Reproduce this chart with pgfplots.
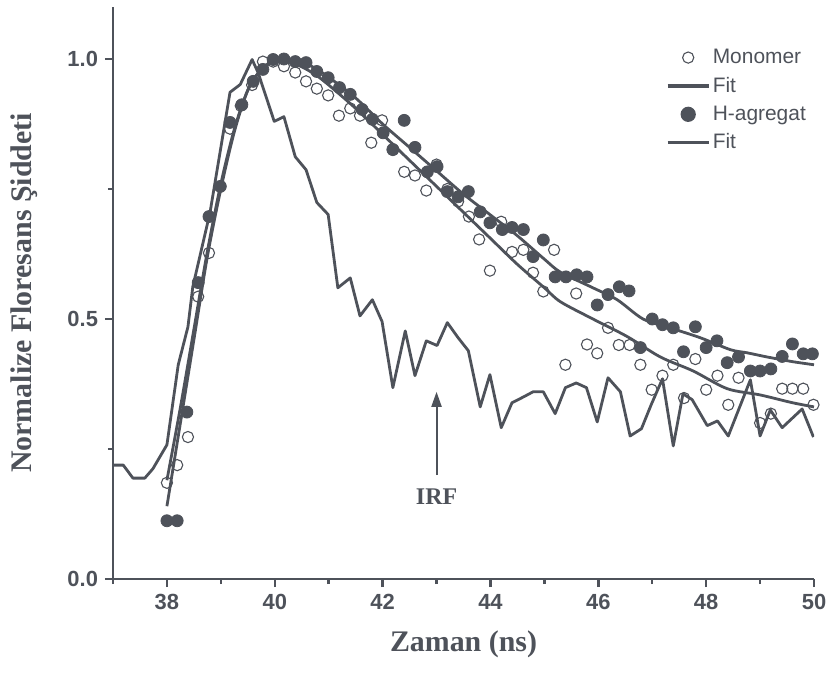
\documentclass[border=0pt]{standalone}
\usepackage{fontspec}
\setmainfont{Liberation Serif}
\newfontfamily\arial{Liberation Sans}
\usepackage{pgfplots}
\usepackage{pgfplotstable}
\pgfplotsset{compat=1.18}
\usetikzlibrary{arrows.meta}
\definecolor{ink}{RGB}{78,82,90}

\pgfplotstableread{
x y
38.00 0.185
38.19 0.219
38.39 0.273
38.58 0.543
38.78 0.627
38.99 0.755
39.17 0.866
39.37 0.910
39.58 0.950
39.78 0.995
39.97 0.995
40.17 0.986
40.38 0.974
40.58 0.957
40.78 0.943
40.99 0.930
41.19 0.891
41.40 0.905
41.58 0.891
41.79 0.839
41.99 0.882
42.19 0.825
42.40 0.783
42.60 0.776
42.81 0.747
43.00 0.797
43.20 0.750
43.40 0.726
43.60 0.697
43.79 0.653
43.99 0.593
44.20 0.687
44.40 0.629
44.61 0.633
44.79 0.589
44.98 0.553
45.18 0.633
45.39 0.412
45.59 0.549
45.79 0.451
45.98 0.434
46.18 0.483
46.38 0.450
46.58 0.450
46.78 0.412
46.99 0.364
47.19 0.391
47.39 0.412
47.59 0.348
47.80 0.423
48.00 0.364
48.21 0.391
48.41 0.335
48.60 0.387
49.00 0.300
49.20 0.318
49.41 0.366
49.60 0.366
49.80 0.366
49.99 0.335
}\monomer

\pgfplotstableread{
x y
38.00 0.190
38.25 0.330
38.50 0.480
38.75 0.630
39.00 0.760
39.25 0.865
39.50 0.940
39.75 0.980
40.00 0.995
40.25 0.995
40.50 0.985
40.75 0.970
41.00 0.950
41.50 0.905
42.00 0.855
42.50 0.805
43.00 0.755
43.50 0.705
44.00 0.655
44.50 0.605
45.00 0.560
45.30 0.533
45.90 0.500
46.54 0.466
47.15 0.427
47.76 0.400
48.39 0.366
49.00 0.354
49.60 0.339
50.00 0.331
}\monofit

\pgfplotstableread{
x y
38.00 0.112
38.19 0.112
38.37 0.321
38.58 0.570
38.78 0.697
38.99 0.755
39.17 0.878
39.39 0.912
39.60 0.957
39.78 0.980
39.97 0.999
40.17 1.000
40.38 0.995
40.58 0.993
40.78 0.976
40.99 0.964
41.20 0.945
41.40 0.932
41.62 0.903
41.81 0.884
42.01 0.858
42.19 0.826
42.40 0.882
42.60 0.830
42.83 0.783
43.01 0.793
43.20 0.745
43.40 0.735
43.59 0.745
43.81 0.706
43.99 0.685
44.22 0.672
44.40 0.676
44.61 0.672
44.79 0.620
44.98 0.652
45.20 0.581
45.40 0.581
45.60 0.585
45.79 0.581
45.98 0.527
46.18 0.547
46.39 0.562
46.57 0.554
46.78 0.445
47.00 0.500
47.19 0.489
47.39 0.483
47.58 0.437
47.80 0.485
48.00 0.445
48.20 0.458
48.39 0.416
48.60 0.427
48.82 0.400
49.00 0.400
49.20 0.404
49.41 0.428
49.60 0.452
49.80 0.433
49.97 0.433
}\hagg

\pgfplotstableread{
x y
38.00 0.140
38.25 0.300
38.50 0.460
38.75 0.620
39.00 0.750
39.25 0.860
39.50 0.940
39.75 0.980
40.00 0.998
40.25 1.000
40.50 0.995
40.75 0.982
41.00 0.965
41.50 0.925
42.00 0.875
42.50 0.830
43.00 0.785
43.50 0.740
44.00 0.700
44.50 0.660
45.00 0.615
45.30 0.590
45.90 0.560
46.35 0.537
46.83 0.500
47.33 0.483
47.89 0.464
48.45 0.441
48.76 0.435
49.13 0.427
49.60 0.418
50.00 0.412
}\haggfit

\pgfplotstableread{
x y
37.00 0.219
37.19 0.219
37.37 0.194
37.59 0.194
37.74 0.212
38.00 0.258
38.21 0.412
38.39 0.485
38.48 0.562
38.80 0.705
39.17 0.936
39.36 0.951
39.58 0.999
39.69 0.974
39.99 0.880
40.17 0.889
40.38 0.812
40.58 0.787
40.78 0.724
40.99 0.701
41.17 0.560
41.40 0.579
41.58 0.506
41.81 0.537
41.99 0.495
42.19 0.368
42.42 0.477
42.60 0.391
42.81 0.458
43.01 0.449
43.20 0.493
43.40 0.464
43.59 0.439
43.81 0.331
43.99 0.393
44.20 0.291
44.40 0.339
44.61 0.350
44.79 0.360
44.98 0.360
45.20 0.318
45.39 0.368
45.59 0.377
45.78 0.368
45.98 0.302
46.18 0.387
46.41 0.360
46.59 0.275
46.80 0.289
46.98 0.335
47.19 0.385
47.39 0.256
47.57 0.356
47.74 0.345
48.02 0.295
48.21 0.304
48.41 0.275
48.82 0.383
49.00 0.275
49.19 0.325
49.41 0.291
49.78 0.327
49.99 0.273
}\irf

\begin{document}
\begin{tikzpicture}
\path[use as bounding box] (-56.5bp,-47bp) rectangle (359.5bp,289.5bp);
\begin{axis}[
  at={(0,0)}, anchor=south west,
  scale only axis, width=350.5bp, height=286bp,
  xmin=37, xmax=50, ymin=0, ymax=1.1,
  axis lines=left,
  axis line style={-, line width=1.4bp, ink},
  xtick={38,40,...,50}, minor xtick={37,39,...,49},
  ytick={0,0.5,1}, minor ytick={0.25,0.75},
  tick align=outside,
  major tick length=4bp, minor tick length=2.5bp,
  tick style={ink, line width=1.2bp},
  yticklabel style={/pgf/number format/.cd, fixed, fixed zerofill, precision=1},
  /pgf/number format/assume math mode=true,
  ticklabel style={font=\arial\bfseries\fontsize{11}{13}\selectfont, text=ink},
  xlabel={Zaman (ns)},
  ylabel={Normalize Floresans Şiddeti},
  label style={font=\bfseries\fontsize{15}{17}\selectfont, text=ink},
  xlabel style={at={(axis description cs:0.5,-0.115)}, anchor=center},
  ylabel style={at={(axis description cs:-0.127,0.5)}, anchor=center},
  legend style={draw=none, fill=none, at={(axis cs:47.25,1.025)}, anchor=north west,
    font=\arial\fontsize{10.5}{12}\selectfont, text=ink, row sep=2.8bp, inner sep=0pt,
    nodes={inner sep=1.25bp}},
  legend cell align=left,
  legend image code/.code={\draw[mark repeat=2, mark phase=2, #1, line width=1.6bp] plot coordinates {(0bp,0bp) (10.25bp,0bp) (20.5bp,0bp)};},
]
\addplot[forget plot, ink, line width=1.4bp, line join=round] table {\irf};
\addplot[only marks, mark=o, mark size=2.8bp, mark options={ink, line width=0.55bp}] table {\monomer};
\addlegendentry{Monomer}
\addplot[ink, line width=1.4bp, smooth, tension=0.5] table {\monofit};
\addlegendentry{Fit}
\addplot[only marks, mark=*, mark size=3bp, mark options={draw=ink, fill=ink}] table {\hagg};
\addlegendentry{H-agregat}
\addplot[ink, line width=1.4bp, smooth, tension=0.5] table {\haggfit};
\addlegendentry{Fit}
\draw[ink, line width=1bp, -{Triangle[length=7.5bp,width=5bp]}] (axis cs:43,0.20) -- (axis cs:43,0.36);
\node[font=\bfseries\fontsize{12}{14}\selectfont, text=ink] at (axis cs:43,0.158) {IRF};
\end{axis}
\end{tikzpicture}
\end{document}
